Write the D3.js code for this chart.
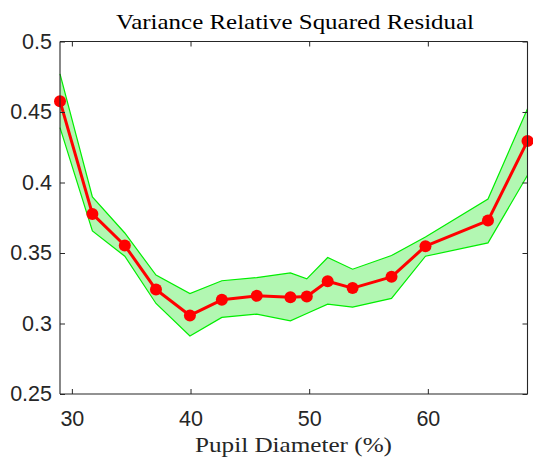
<!DOCTYPE html>
<html>
<head>
<meta charset="utf-8">
<script src="https://cdn.jsdelivr.net/npm/d3@7/dist/d3.min.js"></script>
<style>
  html, body { margin: 0; padding: 0; background: #fff; }
  svg { display: block; }
</style>
</head>
<body>
<svg id="chart" width="533" height="457"></svg>
<script>
// Pupil diameter (%) at each measurement point
const diameters = [29.0, 31.73, 34.46, 37.09, 39.95, 42.64, 45.58, 48.42, 49.80, 51.56, 53.66, 56.94, 59.80, 65.07, 68.4];
// Mean variance-relative squared residual
const meanResidual = [0.4577, 0.3777, 0.3553, 0.3241, 0.3057, 0.3168, 0.3196, 0.3187, 0.3192, 0.3300, 0.3251, 0.3331, 0.3548, 0.3730, 0.4294];
// Upper and lower edges of the shaded band
const upperBound = [0.4771, 0.3897, 0.3642, 0.3343, 0.3213, 0.3303, 0.3326, 0.3359, 0.3317, 0.3468, 0.3385, 0.3482, 0.3614, 0.3883, 0.4523];
const lowerBound = [0.4389, 0.3657, 0.3477, 0.3142, 0.2911, 0.3043, 0.3067, 0.3019, 0.3071, 0.3137, 0.3116, 0.3178, 0.3477, 0.3572, 0.4051];

const xTicks = [30, 40, 50, 60];
const yTicks = [0.25, 0.3, 0.35, 0.4, 0.45, 0.5];

const svg = d3.select("#chart");
const plotL = 60, plotR = 527.5, plotT = 41.5, plotB = 394;

const x = d3.scaleLinear().domain([29.0, 68.4]).range([plotL, plotR]);
const y = d3.scaleLinear().domain([0.25, 0.5]).range([plotB, plotT]);

const axisColor = "#262626";
const tickFont = "'Liberation Sans', Arial, Helvetica, sans-serif";
const serif = "'Liberation Serif', 'DejaVu Serif', 'Times New Roman', serif";

const pts = diameters.map((d, i) => ({ x: d, m: meanResidual[i], hi: upperBound[i], lo: lowerBound[i] }));

// Shaded band
svg.append("path")
  .datum(pts)
  .attr("d", d3.area().x(d => x(d.x)).y0(d => y(d.lo)).y1(d => y(d.hi)))
  .attr("fill", "#b2f7b2")
  .attr("stroke", "none");

// Band edges
[d => d.hi, d => d.lo].forEach(acc => {
  svg.append("path")
    .datum(pts)
    .attr("d", d3.line().x(d => x(d.x)).y(d => y(acc(d))))
    .attr("fill", "none")
    .attr("stroke", "#00ee00")
    .attr("stroke-width", 1.2);
});

// Mean line
svg.append("path")
  .datum(pts)
  .attr("d", d3.line().x(d => x(d.x)).y(d => y(d.m)))
  .attr("fill", "none")
  .attr("stroke", "#ff0000")
  .attr("stroke-width", 3)
  .attr("stroke-linejoin", "round");

svg.selectAll("circle.pt")
  .data(pts)
  .join("circle")
  .attr("class", "pt")
  .attr("cx", d => x(d.x))
  .attr("cy", d => y(d.m))
  .attr("r", 6)
  .attr("fill", "#ff0000");

// Axes (box with inward ticks on all sides)
const tickLen = 5;
const bottomAxis = svg.append("g").attr("transform", `translate(0,${plotB})`)
  .call(d3.axisBottom(x).tickValues(xTicks).tickSizeInner(-tickLen).tickSizeOuter(0).tickPadding(17).tickFormat(d3.format("d")));
const topAxis = svg.append("g").attr("transform", `translate(0,${plotT})`)
  .call(d3.axisTop(x).tickValues(xTicks).tickSizeInner(-tickLen).tickSizeOuter(0).tickFormat(""));
const leftAxis = svg.append("g").attr("transform", `translate(${plotL},0)`)
  .call(d3.axisLeft(y).tickValues(yTicks).tickSizeInner(-tickLen).tickSizeOuter(0).tickPadding(8).tickFormat(d => String(+d.toFixed(2))));
const rightAxis = svg.append("g").attr("transform", `translate(${plotR},0)`)
  .call(d3.axisRight(y).tickValues(yTicks).tickSizeInner(-tickLen).tickSizeOuter(0).tickFormat(""));

[bottomAxis, topAxis, leftAxis, rightAxis].forEach(g => {
  g.select(".domain").attr("stroke", axisColor).attr("stroke-width", 1.1);
  g.selectAll(".tick line").attr("stroke", axisColor).attr("stroke-width", 1);
  g.selectAll(".tick text").attr("fill", axisColor).style("font-family", tickFont).style("font-size", "21.5px");
});
// domain lines run the full box edges
bottomAxis.select(".domain").attr("d", `M${plotL},0H${plotR}`);
topAxis.select(".domain").attr("d", `M${plotL},0H${plotR}`);
leftAxis.select(".domain").attr("d", `M0,${plotT}V${plotB}`);
rightAxis.select(".domain").attr("d", `M0,${plotT}V${plotB}`);

// Title
svg.append("text")
  .attr("x", 295)
  .attr("y", 29.3)
  .attr("text-anchor", "middle")
  .attr("fill", "#000")
  .attr("textLength", 358)
  .attr("lengthAdjust", "spacingAndGlyphs")
  .style("font-family", serif)
  .style("font-size", "22px")
  .text("Variance Relative Squared Residual");

// X axis label
svg.append("text")
  .attr("x", 293.5)
  .attr("y", 451.5)
  .attr("text-anchor", "middle")
  .attr("fill", "#262626")
  .attr("textLength", 197)
  .attr("lengthAdjust", "spacingAndGlyphs")
  .style("font-family", serif)
  .style("font-size", "21px")
  .text("Pupil Diameter (%)");
</script>
</body>
</html>
